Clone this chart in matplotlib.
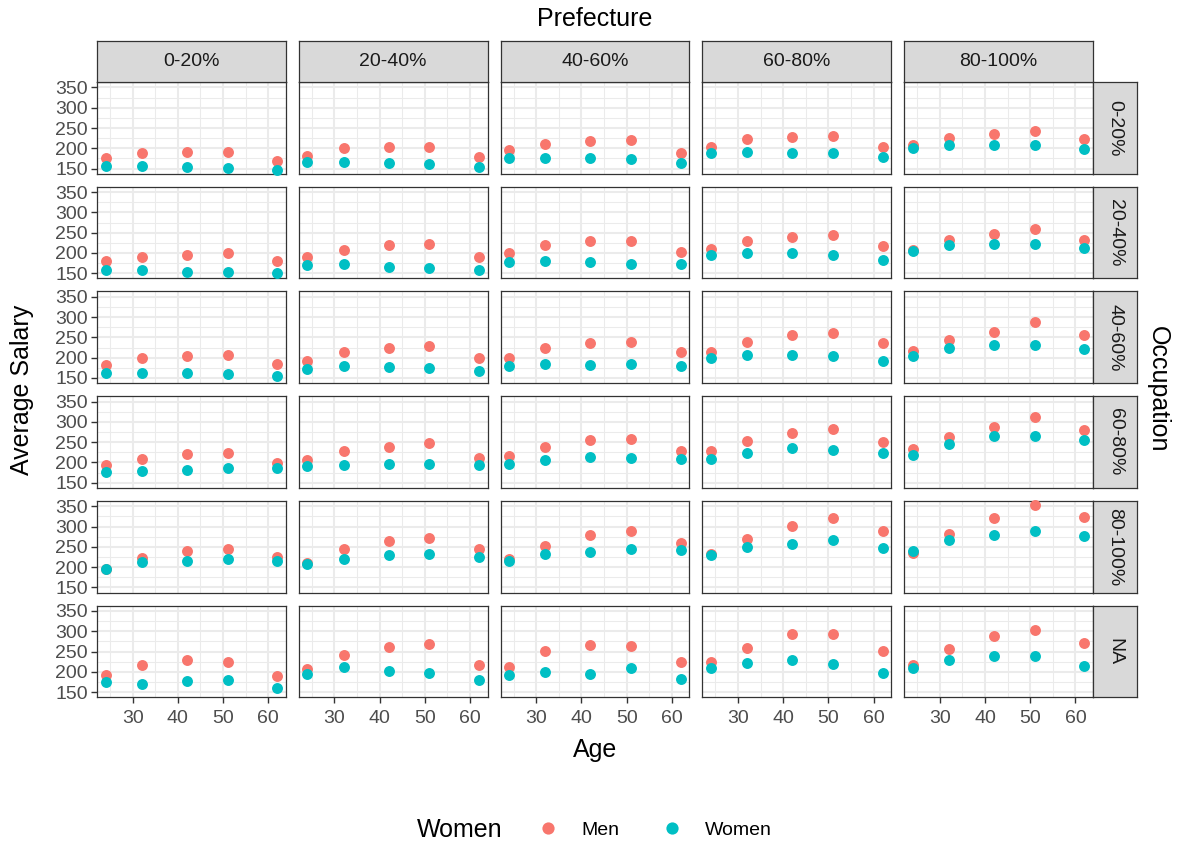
import matplotlib.pyplot as plt
from matplotlib.lines import Line2D

plt.rcParams['font.family'] = ['Liberation Sans', 'DejaVu Sans']

ages = [24, 32, 42, 51, 62]
prefectures = ["0-20%", "20-40%", "40-60%", "60-80%", "80-100%"]
occupations = ["0-20%", "20-40%", "40-60%", "60-80%", "80-100%", "NA"]

# salary[occupation][prefecture] -> one value per age
men_salary = [
    [[176, 188, 192, 191, 169], [182, 201, 202, 203, 179], [195, 211, 219, 220, 188],
     [204, 224, 229, 230, 202], [207, 226, 234, 243, 222]],
    [[179, 190, 196, 200, 179], [189, 207, 220, 223, 191], [199, 219, 230, 229, 203],
     [211, 230, 239, 245, 216], [207, 232, 247, 259, 233]],
    [[181, 198, 204, 206, 184], [192, 214, 225, 230, 200], [200, 223, 237, 239, 213],
     [215, 238, 255, 262, 236], [216, 244, 264, 287, 257]],
    [[194, 209, 220, 224, 198], [207, 227, 238, 247, 212], [215, 237, 254, 257, 227],
     [227, 253, 272, 283, 250], [233, 263, 288, 311, 279]],
    [[196, 223, 239, 244, 224], [211, 244, 265, 271, 245], [220, 252, 279, 289, 260],
     [232, 270, 302, 320, 290], [234, 281, 322, 354, 323]],
    [[192, 217, 228, 223, 189], [206, 242, 260, 269, 216], [211, 251, 265, 264, 224],
     [225, 258, 293, 292, 251], [216, 255, 289, 304, 270]],
]

women_salary = [
    [[156, 156, 153, 152, 147], [165, 165, 163, 162, 153], [175, 177, 175, 174, 163],
     [189, 192, 189, 188, 179], [200, 208, 209, 208, 199]],
    [[158, 157, 153, 153, 150], [171, 174, 166, 164, 159], [178, 180, 177, 174, 173],
     [195, 200, 200, 195, 183], [205, 219, 222, 222, 212]],
    [[162, 162, 161, 160, 155], [173, 179, 177, 175, 168], [179, 185, 183, 184, 180],
     [198, 206, 207, 204, 192], [205, 223, 231, 231, 222]],
    [[176, 179, 182, 187, 186], [190, 194, 196, 197, 193], [197, 205, 213, 212, 208],
     [208, 224, 235, 230, 223], [219, 245, 265, 265, 254]],
    [[195, 213, 214, 220, 215], [208, 221, 230, 232, 224], [216, 232, 238, 244, 241],
     [231, 250, 258, 267, 248], [239, 266, 280, 290, 277]],
    [[175, 171, 178, 179, 159], [194, 213, 201, 196, 179], [191, 199, 194, 210, 181],
     [209, 222, 229, 219, 196], [210, 230, 240, 238, 215]],
]

men_color = "#F8766D"
women_color = "#00BFC4"
grid_color = "#EBEBEB"
dark = "#333333"

W, H = 1178, 844
fig = plt.figure(figsize=(W / 100, H / 100), dpi=100)


def px_rect(left, top, width, height):
    return [left / W, 1 - (top + height) / H, width / W, height / H]


def style_strip(sax):
    sax.set_facecolor("#D9D9D9")
    sax.set_xticks([])
    sax.set_yticks([])
    for sp in sax.spines.values():
        sp.set_color(dark)
        sp.set_linewidth(0.9)


panel_left, panel_top = 97, 82
panel_w, panel_h, gap = 188.8, 91.7, 13
strip_h, strip_w = 41, 44

xlim = (22.1, 63.9)
ylim = (137.3, 363.5)

for r, occ in enumerate(occupations):
    for c, pref in enumerate(prefectures):
        left = panel_left + c * (panel_w + gap)
        top = panel_top + r * (panel_h + gap)
        ax = fig.add_axes(px_rect(left, top, panel_w, panel_h))
        ax.set_xlim(*xlim)
        ax.set_ylim(*ylim)
        ax.set_xticks([30, 40, 50, 60])
        ax.set_xticks([25, 35, 45, 55], minor=True)
        ax.set_yticks([150, 200, 250, 300, 350])
        ax.set_yticks([175, 225, 275, 325], minor=True)
        ax.grid(which='major', color=grid_color, linewidth=1.5)
        ax.grid(which='minor', color=grid_color, linewidth=0.75)
        ax.set_axisbelow(True)
        for sp in ax.spines.values():
            sp.set_color(dark)
            sp.set_linewidth(0.9)
        ax.tick_params(which='minor', length=0)
        ax.tick_params(which='major', length=4, width=1.0, color=dark,
                       labelcolor="#4D4D4D", labelsize=14, pad=2.5)
        ax.tick_params(axis='x', which='major', pad=5)
        if c != 0:
            ax.tick_params(axis='y', which='major', length=0, labelleft=False)
        if r != len(occupations) - 1:
            ax.tick_params(axis='x', which='major', length=0, labelbottom=False)

        ax.scatter(ages, men_salary[r][c], s=62, color=men_color,
                   linewidths=0, zorder=3, clip_on=False)
        ax.scatter(ages, women_salary[r][c], s=62, color=women_color,
                   linewidths=0, zorder=3, clip_on=False)

        # column strips on top row
        if r == 0:
            sax = fig.add_axes(px_rect(left, panel_top - strip_h, panel_w, strip_h))
            style_strip(sax)
            sax.text(0.5, 0.5, pref, ha='center', va='center', fontsize=14,
                     color="#1A1A1A", transform=sax.transAxes)

        # row strips on the right
        if c == len(prefectures) - 1:
            sax = fig.add_axes(px_rect(left + panel_w, top, strip_w, panel_h))
            style_strip(sax)
            sax.text(0.5, 0.5, occ, ha='center', va='center', fontsize=14,
                     color="#1A1A1A", rotation=270, transform=sax.transAxes)

grid_right = panel_left + 5 * panel_w + 4 * gap
grid_bottom = panel_top + 6 * panel_h + 5 * gap
center_x = (panel_left + grid_right) / 2
center_y = (panel_top + grid_bottom) / 2

fig.text(center_x / W, 1 - 19 / H, "Prefecture", ha='center', va='center', fontsize=18)
fig.text(center_x / W, 1 - 750 / H, "Age", ha='center', va='center', fontsize=18)
fig.text(22 / W, 1 - center_y / H, "Average Salary", ha='center', va='center',
         rotation=90, fontsize=18)
fig.text(1158 / W, 1 - center_y / H, "Occupation", ha='center', va='center',
         rotation=270, fontsize=18)

# legend at the bottom with its title on the left
fig.text(460 / W, 1 - 830 / H, "Women", ha='center', va='center', fontsize=18)
handles = [
    Line2D([], [], marker='o', linestyle='none', markersize=8.8,
           markerfacecolor=men_color, markeredgewidth=0, label="Men"),
    Line2D([], [], marker='o', linestyle='none', markersize=8.8,
           markerfacecolor=women_color, markeredgewidth=0, label="Women"),
]
fig.legend(handles=handles, ncol=2, loc='center', frameon=False,
           bbox_to_anchor=(655 / W, 1 - 830 / H), fontsize=14,
           handlelength=1.0, handletextpad=1.2, columnspacing=2.2)

fig.savefig("out.png", dpi=100, facecolor="white")
